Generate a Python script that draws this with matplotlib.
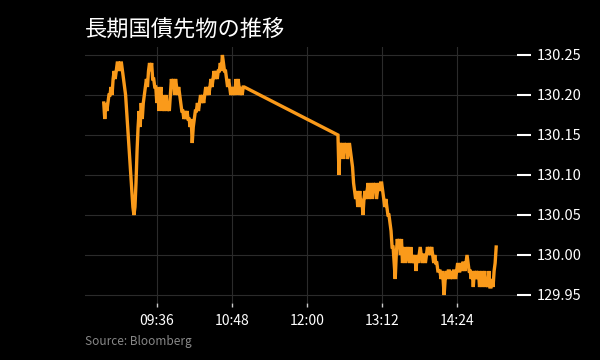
import numpy as np
import pandas as pd
import matplotlib
matplotlib.use('Agg')
import matplotlib.pyplot as plt
import matplotlib.dates as mdates

plt.rcParams['font.family'] = ['Noto Sans CJK JP', 'DejaVu Sans']

# price in hundredths above 130.00, one point per minute
am_start = '08:45'
am_ticks = [19, 17, 19, 18,
            19, 20, 20, 21, 20,
            22, 23, 22, 23,
            24, 24, 23, 24, 24,
            23, 22, 21,
            20, 18, 16, 14, 12,
            10, 8, 6, 5, 6,
            9, 13, 16,
            18, 16, 19, 17, 19, 20,
            21, 22, 21, 23, 24,
            23, 24, 22, 22, 21,
            21, 19, 21, 18, 20,
            21, 18, 20, 18, 19,
            20, 18, 19, 18, 20,
            22, 21, 22, 20, 22, 21, 20,
            21, 20, 19, 18, 18,
            17, 18, 17, 18, 17, 17,
            16, 17, 14, 16, 17, 18,
            18, 19, 18, 19, 20, 19,
            20, 19, 20, 21, 20,
            21, 20, 21, 22, 21, 22,
            23, 22, 23, 22, 23,
            23, 24, 23, 25, 24, 23,
            23, 22, 21, 22, 21,
            20, 21, 20, 21, 20,
            22, 20, 22, 21, 20,
            21, 20, 21, 21]

pm_start = '12:30'
pm_ticks = [15, 10, 14,
            13, 14, 12, 14, 13,
            14, 12, 13, 14, 13,
            12, 11, 9, 8, 7,
            8, 6, 7, 8, 6,
            7, 5, 7, 8, 7,
            8, 9, 7, 8, 9,
            7, 9, 8, 9, 7,
            8, 9, 8, 9, 9,
            8, 7, 6, 7, 6,
            5, 5, 4, 3, 1,
            1, -1, -3, 0, 2,
            1, 2, 0, 2, -1,
            0, 1, -1, 0, 1,
            0, -1, 1, -1, 0,
            -1, 0, -2, 0, -1,
            0, 1, 0, -1, 0,
            0, -1, 0, 1, 0,
            1, 0, 1, 0, -1,
            0, -1, -1, -2, -2,
            -2, -3, -2, -3, -5,
            -3, -2, -3, -2, -2,
            -3, -2, -3, -2, -2,
            -3, -2, -1, -2, -2,
            -1, -2, -1, -1, -2,
            -1, 0, -1, -2, -2,
            -3, -2, -4, -2, -3,
            -2, -3, -2, -4, -3,
            -2, -4, -3, -2, -4,
            -3, -4, -2, -4, -4,
            -3, -4, -2, -1, 1]

x_labels = ['09:36', '10:48', '12:00', '13:12', '14:24']
y_values = [129.95, 130.00, 130.05, 130.10, 130.15, 130.20, 130.25]

day = '2020-06-01 '
am_t = pd.date_range(day + am_start, periods=len(am_ticks), freq='1min')
pm_t = pd.date_range(day + pm_start, periods=len(pm_ticks), freq='1min')
times = am_t.append(pm_t)
prices = 130 + np.array(am_ticks + pm_ticks) / 100

bg = 'black'
fig = plt.figure(figsize=(6, 3.6), dpi=100, facecolor=bg)
ax = fig.add_axes([85 / 600, 1 - 303 / 360, 432 / 600, 256 / 360], facecolor=bg)

ax.plot(times, prices, color='#fa9a1a', lw=2.4, solid_joinstyle='miter')

ax.set_xlim(pd.Timestamp(day + '08:27'), pd.Timestamp(day + '15:22'))
ax.set_ylim(129.94, 130.26)

ax.set_xticks([pd.Timestamp(day + s) for s in x_labels])
ax.xaxis.set_major_formatter(mdates.DateFormatter('%H:%M'))
ax.set_yticks(y_values)
ax.set_yticklabels([f'{v:.2f}' for v in y_values])

ax.yaxis.tick_right()
ax.tick_params(axis='y', colors='white', labelcolor='white', length=10,
               width=1.5, pad=4, labelsize=10.5)
ax.tick_params(axis='x', colors='#cccccc', labelcolor='white', length=3,
               width=1, pad=5, labelsize=10)

for s in ax.spines.values():
    s.set_visible(False)
ax.grid(True, color='#2b2b2b', lw=0.8)

fig.text(85 / 600, 1 - 30 / 360, '長期国債先物の推移', color='white',
         fontsize=16, va='center', ha='left')
fig.text(85 / 600, 1 - 342 / 360, 'Source: Bloomberg', color='#888888',
         fontsize=8.5, va='center', ha='left')

fig.savefig('out.png', dpi=100, facecolor=bg)
